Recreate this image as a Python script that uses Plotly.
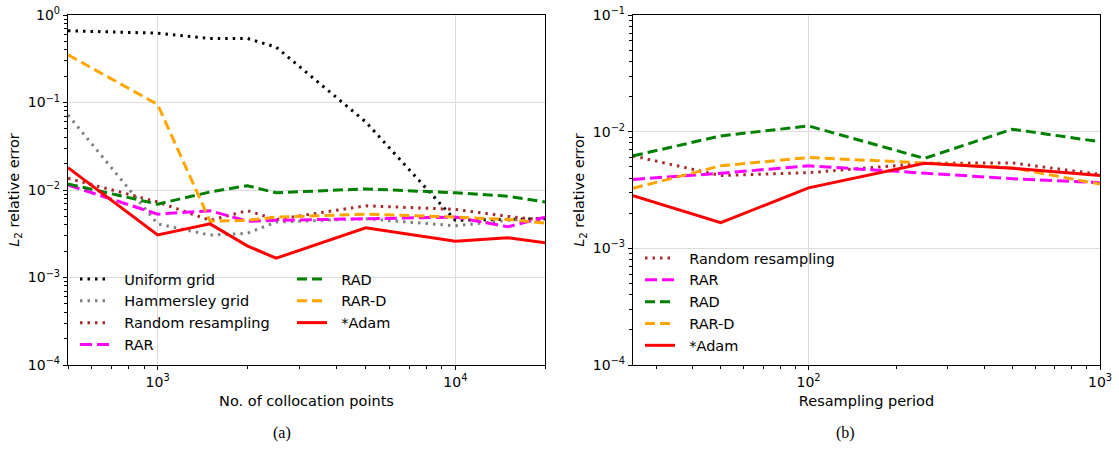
import plotly.graph_objects as go
import numpy as np

# ---------------- data ----------------
n_points = [500, 1000, 1500, 2000, 2500, 5000, 10000, 15000, 20000]
a_uniform = [0.66, 0.62, 0.54, 0.54, 0.43, 0.06, 4.5e-3, 4.6e-3, 4.7e-3]
a_hammersley = [0.072, 4.1e-3, 3.05e-3, 3.2e-3, 4.3e-3, 4.7e-3, 3.9e-3, 4.5e-3, 4.8e-3]
a_random = [0.0136, 7.3e-3, 4.5e-3, 5.8e-3, 4.6e-3, 6.6e-3, 6.0e-3, 5.0e-3, 4.5e-3]
a_rar = [0.0114, 5.3e-3, 5.8e-3, 4.4e-3, 4.5e-3, 4.7e-3, 4.9e-3, 3.8e-3, 4.9e-3]
a_rad = [0.0117, 6.9e-3, 9.5e-3, 0.0112, 9.3e-3, 0.0103, 9.3e-3, 8.5e-3, 7.3e-3]
a_rard = [0.35, 0.095, 4.4e-3, 4.5e-3, 4.9e-3, 5.3e-3, 4.9e-3, 4.6e-3, 4.2e-3]
a_adam = [0.018, 3.06e-3, 4.1e-3, 2.3e-3, 1.66e-3, 3.7e-3, 2.6e-3, 2.85e-3, 2.5e-3]

periods = [25, 50, 100, 250, 500, 1000]
b_random = [6.2e-3, 4.2e-3, 4.45e-3, 5.35e-3, 5.4e-3, 4.3e-3]
b_rar = [3.9e-3, 4.4e-3, 5.1e-3, 4.4e-3, 3.95e-3, 3.65e-3]
b_rad = [6.2e-3, 9.2e-3, 0.0112, 5.9e-3, 0.0105, 8.2e-3]
b_rard = [3.27e-3, 5.1e-3, 6.0e-3, 5.4e-3, 4.9e-3, 3.55e-3]
b_adam = [2.83e-3, 1.66e-3, 3.3e-3, 5.37e-3, 4.86e-3, 4.2e-3]

# ---------------- styles ----------------
DOT = "2.5px,5px"
DASH = "10px,5px"
DASH_M = "12px,5px"
styles = {
    "Uniform grid": dict(color="black", dash=DOT, width=3),
    "Hammersley grid": dict(color="#808080", dash=DOT, width=3),
    "Random resampling": dict(color="#a52a2a", dash=DOT, width=3),
    "RAR": dict(color="#ff00ff", dash=DASH_M, width=3),
    "RAD": dict(color="#008000", dash=DASH, width=3),
    "RAR-D": dict(color="#ffa500", dash=DASH, width=3),
    "*Adam": dict(color="#ff0000", dash="solid", width=3),
}
PAD = "\u00a0\u00a0"

fig = go.Figure()

left_series = [
    ("Uniform grid", a_uniform, "legend"),
    ("Hammersley grid", a_hammersley, "legend"),
    ("Random resampling", a_random, "legend"),
    ("RAR", a_rar, "legend"),
    ("RAD", a_rad, "legend2"),
    ("RAR-D", a_rard, "legend2"),
    ("*Adam", a_adam, "legend2"),
]
for i, (name, vals, lg) in enumerate(left_series):
    fig.add_trace(go.Scatter(x=n_points, y=vals, mode="lines", name=PAD + name,
                             line=styles[name], legend=lg, legendgroup="a%d" % i,
                             xaxis="x", yaxis="y"))

right_series = [
    ("Random resampling", b_random),
    ("RAR", b_rar),
    ("RAD", b_rad),
    ("RAR-D", b_rard),
    ("*Adam", b_adam),
]
for i, (name, vals) in enumerate(right_series):
    fig.add_trace(go.Scatter(x=periods, y=vals, mode="lines", name=PAD + name,
                             line=styles[name], legend="legend3", legendgroup="b%d" % i,
                             xaxis="x2", yaxis="y2"))

FONT = "DejaVu Sans"
MINUS = "\u2212"


def dec_ticks(lo, hi):
    vals = [10.0 ** k for k in range(lo, hi + 1)]
    text = ["10<sup>%s</sup>" % (str(k).replace("-", MINUS)) for k in range(lo, hi + 1)]
    return vals, text


def minor_vals(lo, hi):
    return [m * 10.0 ** k for k in range(lo, hi) for m in range(2, 10)]


def axis_common():
    return dict(type="log", showline=True, linecolor="black", linewidth=1.2, mirror=True,
                ticks="outside", ticklen=4, tickwidth=1, tickcolor="black",
                showgrid=True, gridcolor="#dddddd", gridwidth=1, zeroline=False,
                automargin=False,
                tickfont=dict(family=FONT, size=14, color="black"),
                title_font=dict(family=FONT, size=14.5, color="black"))


yv, yt = dec_ticks(-4, 0)
xv, xt = dec_ticks(3, 4)
yv2, yt2 = dec_ticks(-4, -1)
xv2, xt2 = dec_ticks(2, 3)

xa = axis_common()
xa.update(domain=[68 / 1119, 545 / 1119], range=[np.log10(500), np.log10(20000)],
          tickvals=xv, ticktext=xt, anchor="y",
          title=dict(text="No. of collocation points", standoff=6),
          minor=dict(tickvals=minor_vals(2, 5), ticks="outside", ticklen=2.5, tickcolor="black", showgrid=False))
ya = axis_common()
ya.update(domain=[94 / 459, 444 / 459], range=[-4, 0], tickvals=yv, ticktext=yt, anchor="x",
          title=dict(text="<i>L</i><sub>2</sub> relative error", standoff=4),
          minor=dict(tickvals=minor_vals(-4, 0), ticks="outside", ticklen=2.5, tickcolor="black", showgrid=False))
xa2 = axis_common()
xa2.update(domain=[633 / 1119, 1100 / 1119], range=[np.log10(25), 3],
           tickvals=xv2, ticktext=xt2, anchor="y2",
           title=dict(text="Resampling period", standoff=6),
           minor=dict(tickvals=minor_vals(1, 3), ticks="outside", ticklen=2.5, tickcolor="black", showgrid=False))
ya2 = axis_common()
ya2.update(domain=[94 / 459, 444 / 459], range=[-4, -1], tickvals=yv2, ticktext=yt2, anchor="x2",
           title=dict(text="<i>L</i><sub>2</sub> relative error", standoff=4),
           minor=dict(tickvals=minor_vals(-4, -1), ticks="outside", ticklen=2.5, tickcolor="black", showgrid=False))

leg_common = dict(bgcolor="rgba(255,255,255,0)", borderwidth=0,
                  font=dict(family=FONT, size=14.5, color="black"),
                  tracegroupgap=0, xanchor="left", yanchor="top", itemwidth=30)

fig.update_layout(
    width=1119, height=459,
    margin=dict(l=0, r=0, t=0, b=0, autoexpand=False),
    paper_bgcolor="white", plot_bgcolor="white",
    xaxis=xa, yaxis=ya, xaxis2=xa2, yaxis2=ya2,
    legend=dict(x=75 / 1119, y=1 - 263 / 459, **leg_common),
    legend2=dict(x=292 / 1119, y=1 - 263 / 459, **leg_common),
    legend3=dict(x=640 / 1119, y=1 - 242 / 459, **leg_common),
    annotations=[
        dict(text="(a)", x=282 / 1119, y=1 - 433 / 459, xref="paper", yref="paper",
             xanchor="center", yanchor="middle",
             showarrow=False, font=dict(family="Liberation Serif", size=16, color="black")),
        dict(text="(b)", x=845 / 1119, y=1 - 433 / 459, xref="paper", yref="paper",
             xanchor="center", yanchor="middle",
             showarrow=False, font=dict(family="Liberation Serif", size=16, color="black")),
    ],
)

fig.write_html("out.html")
